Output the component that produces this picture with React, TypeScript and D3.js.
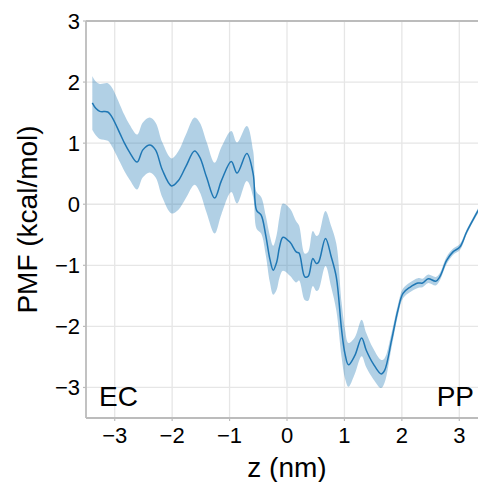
import React from "react";
import * as d3 from "d3";

const zValues = [-3.39,-3.33,-3.26,-3.12,-3.05,-2.91,-2.83,-2.74,-2.61,-2.51,-2.39,-2.29,-2.17,-2.01,-1.89,-1.76,-1.61,-1.52,-1.40,-1.26,-1.14,-0.97,-0.87,-0.70,-0.59,-0.53,-0.45,-0.37,-0.30,-0.24,-0.18,-0.13,-0.07,0.05,0.16,0.21,0.31,0.37,0.45,0.51,0.55,0.67,0.77,0.86,0.95,1.01,1.07,1.18,1.30,1.38,1.50,1.64,1.70,1.82,1.93,2.02,2.14,2.28,2.36,2.46,2.59,2.66,2.78,2.89,3.01,3.13,3.30,3.39];
const pmfMean = [1.66,1.57,1.52,1.51,1.43,1.16,1.00,0.85,0.69,0.89,0.97,0.89,0.56,0.30,0.39,0.62,0.87,0.77,0.44,0.10,0.39,0.70,0.51,0.83,0.50,-0.10,-0.18,-0.51,-0.89,-1.08,-0.95,-0.70,-0.54,-0.62,-0.78,-0.80,-1.19,-1.18,-0.89,-0.97,-0.95,-0.56,-0.86,-1.20,-2.05,-2.45,-2.63,-2.48,-2.19,-2.39,-2.61,-2.78,-2.72,-2.23,-1.74,-1.46,-1.36,-1.29,-1.29,-1.22,-1.26,-1.19,-0.92,-0.78,-0.70,-0.45,-0.15,0.0];
const pmfErr = [0.44,0.44,0.45,0.47,0.48,0.47,0.46,0.45,0.45,0.45,0.45,0.45,0.45,0.45,0.48,0.52,0.55,0.57,0.58,0.58,0.55,0.5,0.5,0.45,0.38,0.3,0.3,0.32,0.38,0.4,0.45,0.5,0.55,0.55,0.5,0.45,0.38,0.4,0.45,0.45,0.45,0.45,0.5,0.55,0.45,0.4,0.36,0.3,0.3,0.28,0.25,0.23,0.2,0.12,0.09,0.08,0.08,0.08,0.07,0.07,0.07,0.06,0.06,0.05,0.05,0.04,0.04,0.04];
const xTicks = [-3,-2,-1,0,1,2,3];
const yTicks = [-3,-2,-1,0,1,2,3];

const W = 478, H = 482;
const L = 86, R = 488, T = 21, B = 418;
const FONT = "'Liberation Sans', Arial, Helvetica, sans-serif";

export default function App() {
  const x = d3.scaleLinear().domain([-3.5, 3.5]).range([L, R]);
  const y = d3.scaleLinear().domain([-3.5, 3]).range([B, T]);
  const data = zValues.map((z, i) => ({ z, m: pmfMean[i], e: pmfErr[i] }));
  const curve = d3.curveCatmullRom.alpha(0.5);
  const area = d3.area<any>().x(d => x(d.z)).y0(d => y(d.m - d.e)).y1(d => y(d.m + d.e)).curve(curve);
  const line = d3.line<any>().x(d => x(d.z)).y(d => y(d.m)).curve(curve);
  const fmt = (v: number) => (v < 0 ? "\u2212" + Math.abs(v) : String(v));
  const spine = "#bcbcbc";
  return (
    <svg width={W} height={H} style={{ position: "absolute", left: 0, top: 0, background: "#fff" }} fontFamily={FONT}>
      <defs>
        <clipPath id="plot"><rect x={L} y={T} width={R - L} height={B - T} /></clipPath>
      </defs>
      <rect x={0} y={0} width={W} height={H} fill="#fff" />
      {xTicks.map(t => (
        <line key={"gx" + t} x1={x(t)} x2={x(t)} y1={T} y2={B} stroke="#e6e6e6" strokeWidth={1.3} />
      ))}
      {yTicks.map(t => (
        <line key={"gy" + t} x1={L} x2={R} y1={y(t)} y2={y(t)} stroke="#e6e6e6" strokeWidth={1.3} />
      ))}
      <g clipPath="url(#plot)">
        <path d={area(data) || ""} fill="#1f77b4" fillOpacity={0.35} stroke="none" />
        <path d={line(data) || ""} fill="none" stroke="#1f77b4" strokeWidth={1.5} />
      </g>
      <line x1={L} x2={R} y1={T} y2={T} stroke={spine} strokeWidth={1.8} />
      <line x1={L} x2={L} y1={T} y2={B} stroke={spine} strokeWidth={1.8} />
      <line x1={L} x2={R} y1={B} y2={B} stroke={spine} strokeWidth={1.8} />
      {xTicks.map(t => (
        <g key={"xt" + t}>
          <line x1={x(t)} x2={x(t)} y1={B} y2={B + 3} stroke={spine} strokeWidth={1.2} />
          <text x={x(t)} y={443} textAnchor="middle" fontSize={22} fill="#000">{fmt(t)}</text>
        </g>
      ))}
      {yTicks.map(t => (
        <g key={"yt" + t}>
          <line x1={L - 3} x2={L} y1={y(t)} y2={y(t)} stroke={spine} strokeWidth={1.2} />
          <text x={80} y={y(t)} dy="0.36em" textAnchor="end" fontSize={22} fill="#000">{fmt(t)}</text>
        </g>
      ))}
      <text x={(L + R) / 2} y={477} textAnchor="middle" fontSize={28} fill="#000">z (nm)</text>
      <text transform={`translate(37,${(T + B) / 2}) rotate(-90)`} textAnchor="middle" fontSize={28} fill="#000">PMF (kcal/mol)</text>
      <text x={99} y={406} fontSize={28} fill="#000">EC</text>
      <text x={474} y={406} textAnchor="end" fontSize={28} fill="#000">PP</text>
    </svg>
  );
}
